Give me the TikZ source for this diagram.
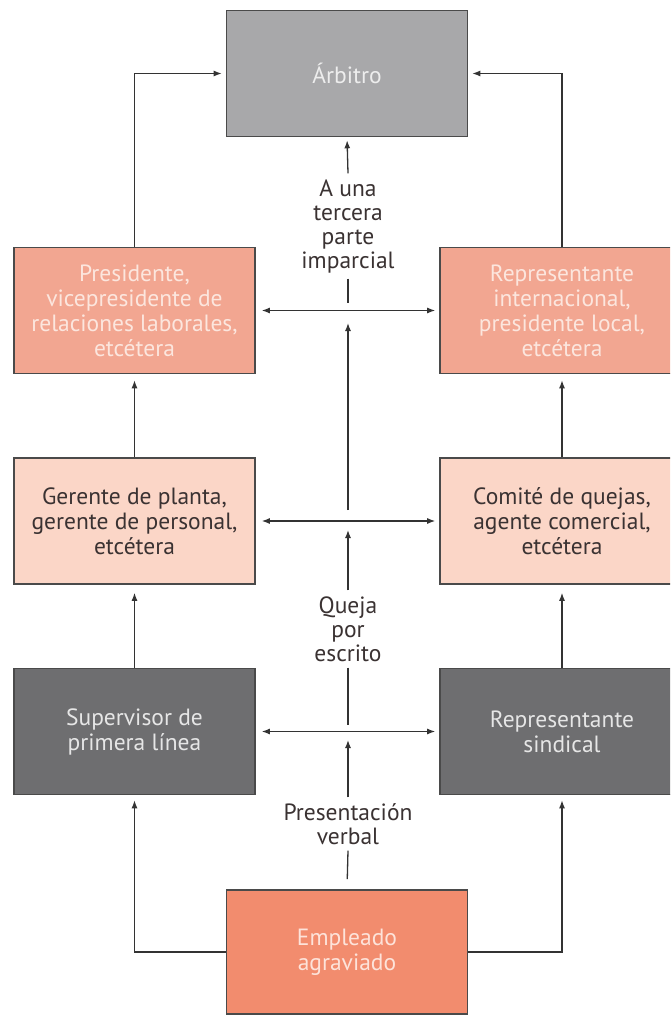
\documentclass[tikz,border=0pt]{standalone}
\usepackage{fontspec}
\setmainfont{PT Sans}
\usetikzlibrary{arrows.meta}
\definecolor{bordc}{HTML}{4A4A4A}
\definecolor{arbfill}{HTML}{A8A8AA}
\definecolor{arbtext}{HTML}{EDEDED}
\definecolor{presfill}{HTML}{F2A691}
\definecolor{prestext}{HTML}{FCE6DE}
\definecolor{gerfill}{HTML}{FBD6C7}
\definecolor{gertext}{HTML}{3A3232}
\definecolor{supfill}{HTML}{6E6E70}
\definecolor{suptext}{HTML}{E6E6E6}
\definecolor{empfill}{HTML}{F28C6E}
\definecolor{emptext}{HTML}{FDE3DA}
\definecolor{linec}{HTML}{333333}
\begin{document}
\begin{tikzpicture}[x=1pt,y=-1pt,
  box/.style={draw=bordc, line width=1.6pt, minimum width=241pt, minimum height=126pt,
    inner sep=0pt, align=center, font=\fontsize{23.5}{25}\selectfont},
  arbbox/.style={box, fill=arbfill, text=arbtext},
  presbox/.style={box, fill=presfill, text=prestext},
  gerbox/.style={box, fill=gerfill, text=gertext},
  supbox/.style={box, fill=supfill, text=suptext},
  empbox/.style={box, fill=empfill, text=emptext},
  wide/.style={minimum width=244pt},
  lab/.style={align=center, inner sep=0pt, outer sep=6pt, text=gertext,
    font=\fontsize{23.5}{24}\selectfont},
  conn/.style={draw=linec, line width=1.3pt},
  arr/.style={conn, -{Latex[length=8pt,width=6pt]}},
  darr/.style={conn, {Latex[length=8pt,width=6pt]}-{Latex[length=8pt,width=6pt]}}
]
\clip (0,0) rectangle (670,1016);
\fill[white] (0,0) rectangle (670,1016);

% boxes
\node[arbbox] (arb) at (347,73.5) {Árbitro};
\node[presbox] (pres) at (134.5,310.5) {Presidente,\\vicepresidente de\\relaciones laborales,\\etcétera};
\node[presbox, wide] (rep) at (562,310.5) {Representante\\internacional,\\presidente local,\\etcétera};
\node[gerbox] (ger) at (134.5,521) {Gerente de planta,\\gerente de personal,\\etcétera};
\node[gerbox, wide] (com) at (562,521) {Comité de quejas,\\agente comercial,\\etcétera};
\node[supbox] (sup) at (134.5,731.5) {Supervisor de\\primera línea};
\node[supbox, wide] (sind) at (562,731.5) {Representante\\sindical};
\node[empbox, minimum height=124pt] (emp) at (347,952) {Empleado\\agraviado};

% labels
\node[lab] (l1) at (348,226) {A una\\tercera\\parte\\imparcial};
\node[lab] (l2) at (348,629) {Queja\\por\\escrito};
\node[lab] (l3) at (348,824) {Presentación\\verbal};

% coordinates on the central line
\coordinate (c1) at (348,303);
\coordinate (c2) at (348,510);
\coordinate (c3) at (348,323);
\coordinate (c4) at (348,530);
\coordinate (c5) at (348,725);
\coordinate (c6) at (348,740);

% side connectors
\draw[arr] (pres.north) |- ([xshift=-4pt]arb.west);
\draw[arr] (rep.north -| sind.north) |- ([xshift=4pt]arb.east);
\draw[arr, shorten >=6pt] (ger.north) -- (pres.south);
\draw[arr, shorten >=6pt] (com.north) -- (rep.south);
\draw[arr, shorten >=8pt] (sup.north) -- (ger.south);
\draw[arr, shorten >=8pt] (sind.north) -- (com.south);
\draw[arr, shorten >=5pt] (emp.west) -| (sup.south);
\draw[arr, shorten >=5pt] (emp.east) -| (sind.south);

% horizontal double arrows
\draw[darr, shorten <=6pt, shorten >=4pt] (pres.east) -- (rep.west);
\draw[darr, shorten <=6pt, shorten >=4pt] (ger.east) -- (com.west);
\draw[darr, shorten <=6pt, shorten >=4pt] (sup.east) -- (sind.west);

% central column
\draw[arr, shorten >=3pt] (l1.north) -- (arb.south);
\draw[conn] (l1.south) -- (c1);
\draw[arr] (c2) -- (c3);
\draw[arr] (l2.north) -- (c4);
\draw[conn] (l2.south) -- (c5);
\draw[arr] (l3.north) -- (c6);
\draw[conn, shorten >=10pt] (l3.south) -- (emp.north);
\end{tikzpicture}
\end{document}
